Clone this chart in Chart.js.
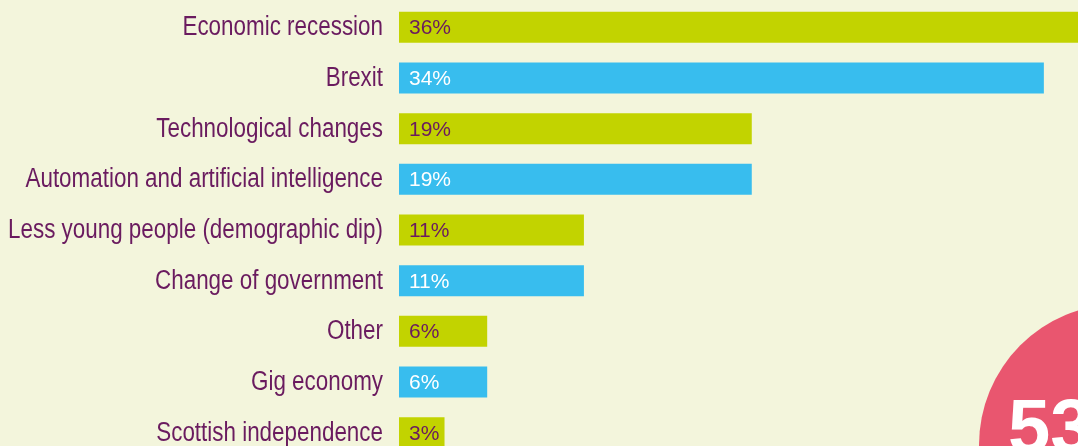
<!DOCTYPE html>
<html>
<head>
<meta charset="utf-8">
<script src="https://cdn.jsdelivr.net/npm/chart.js@4"></script>
<style>
    html, body { margin: 0; padding: 0; background: #f3f5dc; overflow: hidden; }
    canvas { display: block; }
</style>
</head>
<body>
<canvas id="concernsChart" width="1078" height="458"></canvas>
<script>
const categories = [
    'Economic recession',
    'Brexit',
    'Technological changes',
    'Automation and artificial intelligence',
    'Less young people (demographic dip)',
    'Change of government',
    'Other',
    'Gig economy',
    'Scottish independence',
]
// bar lengths as drawn in the picture (percent)
const barValues = [36, 34, 18.6, 18.6, 9.75, 9.75, 4.65, 4.65, 2.4]
// percentages printed on the bars
const shownValues = [36, 34, 19, 19, 11, 11, 6, 6, 3]
const highlightValue = '53%'

const yellow = '#c2d300'
const blue = '#38bdee'
const purple = '#6a1b5f'

const barColors = categories.map((c, i) => i % 2 === 0 ? yellow : blue)
const textColors = categories.map((c, i) => i % 2 === 0 ? purple : '#ffffff')

// category names, drawn squeezed to look like a narrow face
const categoryLabels = {
    id: 'categoryLabels',
    afterDraw(chart) {
        const ctx = chart.ctx
        const yScale = chart.scales.y
        const right = chart.chartArea.left - 16
        ctx.save()
        ctx.fillStyle = purple
        ctx.font = '27px "Liberation Sans", Arial, sans-serif'
        ctx.textAlign = 'right'
        ctx.textBaseline = 'alphabetic'
        categories.forEach((label, i) => {
            const y = yScale.getPixelForTick(i)
            ctx.save()
            ctx.translate(right, y + 8)
            ctx.scale(0.83, 1)
            ctx.fillText(label, 0, 0)
            ctx.restore()
        })
        ctx.restore()
    }
}

const valueLabels = {
    id: 'valueLabels',
    afterDatasetsDraw(chart) {
        const ctx = chart.ctx
        const meta = chart.getDatasetMeta(0)
        ctx.save()
        ctx.font = '21px "Liberation Sans", Arial, sans-serif'
        ctx.textAlign = 'left'
        ctx.textBaseline = 'alphabetic'
        meta.data.forEach((bar, i) => {
            ctx.fillStyle = textColors[i]
            ctx.fillText(shownValues[i] + '%', bar.base + 10, bar.y + 7)
        })
        ctx.restore()
    }
}

const bigCircle = {
    id: 'bigCircle',
    afterDraw(chart) {
        const ctx = chart.ctx
        ctx.save()
        ctx.fillStyle = '#e9566f'
        ctx.beginPath()
        ctx.arc(1120, 445, 141, 0, Math.PI * 2)
        ctx.fill()
        ctx.fillStyle = '#ffffff'
        ctx.font = 'bold 76px "Liberation Sans", Arial, sans-serif'
        ctx.textAlign = 'left'
        ctx.textBaseline = 'alphabetic'
        ctx.fillText(highlightValue, 1008, 452)
        ctx.restore()
    }
}

new Chart(document.getElementById('concernsChart'), {
    type: 'bar',
    data: {
        labels: categories,
        datasets: [{
            data: barValues,
            backgroundColor: barColors,
            barPercentage: 0.613,
            categoryPercentage: 1,
            borderWidth: 0,
        }]
    },
    options: {
        indexAxis: 'y',
        responsive: false,
        animation: false,
        devicePixelRatio: 1,
        layout: { padding: { top: 2, right: 0, bottom: 0, left: 0 } },
        plugins: {
            legend: { display: false },
            tooltip: { enabled: false },
        },
        scales: {
            x: {
                display: false,
                min: 0,
                max: 35.8,
            },
            y: {
                afterFit(scale) { scale.width = 399 },
                grid: { display: false, drawTicks: false },
                border: { display: false },
                ticks: { display: false },
            },
        },
    },
    plugins: [valueLabels, categoryLabels, bigCircle],
})
</script>
</body>
</html>
